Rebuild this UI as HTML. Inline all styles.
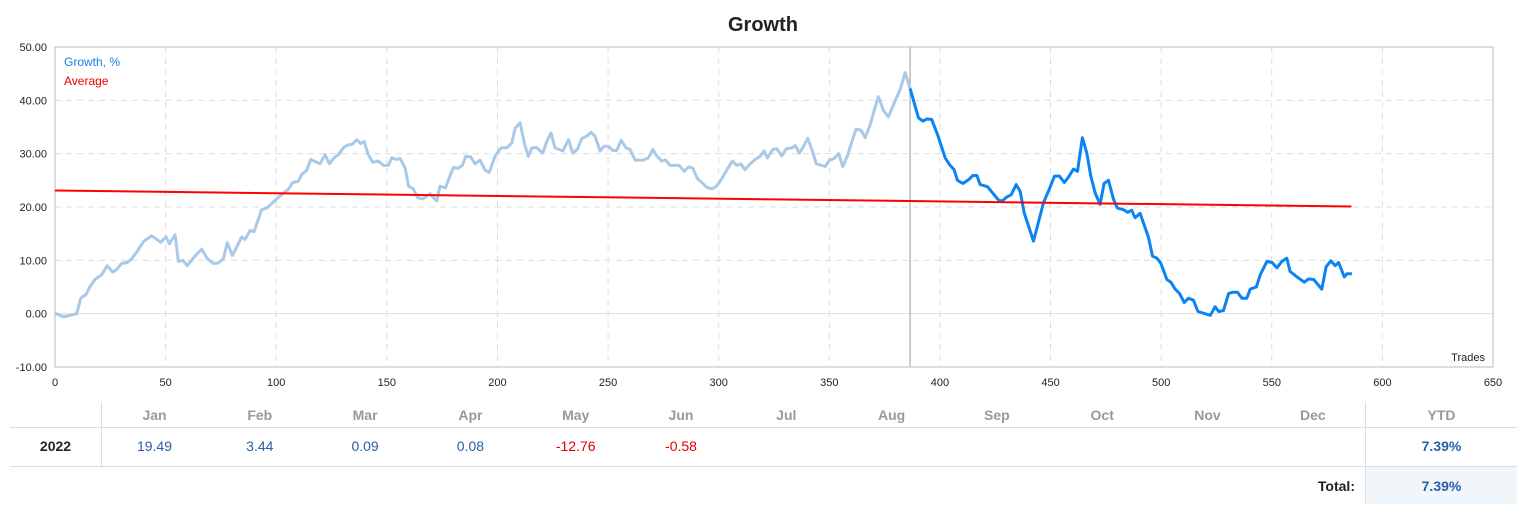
<!DOCTYPE html>
<html><head><meta charset="utf-8">
<style>
body{margin:0;width:1523px;height:518px;background:#fff;font-family:"Liberation Sans","DejaVu Sans",sans-serif;overflow:hidden;position:relative}
svg{position:absolute;left:0;top:0}
.tbl{position:absolute;left:10px;top:402px;width:1507px;height:102px}
.c{position:absolute;text-align:center;font-size:14px}
</style></head><body>
<svg id="chart" width="1523" height="400">
<text x="763" y="31" text-anchor="middle" font-size="20" font-weight="bold" fill="#222">Growth</text>
<g id="grid"></g>
<rect x="55" y="47" width="1438" height="320" fill="none" stroke="#bbb"/>
<g id="marks"></g>
<text x="64" y="66" font-size="12" fill="#1a7fe6">Growth, %</text>
<text x="64" y="85" font-size="12" fill="#e00">Average</text>
<text x="1485" y="361" font-size="11" fill="#222" text-anchor="end">Trades</text>
</svg>
<div class="tbl">
<div style="position:absolute;left:91px;top:0;width:1px;height:64px;background:#ddd"></div>
<div style="position:absolute;left:1355px;top:0;width:1px;height:102px;background:#ddd"></div>
<div style="position:absolute;left:0;top:25px;width:1507px;height:1px;background:#ddd"></div>
<div style="position:absolute;left:0;top:64px;width:1507px;height:1px;background:#ddd"></div>
<div style="position:absolute;left:1356px;top:65px;width:151px;height:37px;background:#f1f6fb"></div>
<div id="months"></div>
<div class="c" style="left:0;width:91px;top:36px;font-weight:bold;color:#222">2022</div>
<div class="c" style="left:1356px;width:151px;top:5px;color:#999;font-weight:bold">YTD</div>
<div class="c" style="left:1356px;width:151px;top:36px;color:#2a5ea8;font-weight:bold">7.39%</div>
<div class="c" style="left:1200px;width:145px;top:76px;text-align:right;color:#222;font-weight:bold">Total:</div>
<div class="c" style="left:1356px;width:151px;top:76px;color:#2a5ea8;font-weight:bold">7.39%</div>
</div>
<script>
const yTicks=[50,40,30,20,10,0,-10];
const xTicks=[0,50,100,150,200,250,300,350,400,450,500,550,600,650];
const histT=[0,3.8,9.8,11.6,14,15.8,18.1,21.1,23.6,26.1,27.9,30.1,32.7,34.7,37.2,40.2,43.7,47.8,50.2,51.7,54.3,55.8,57.7,59.8,63.3,66.3,68.9,71.6,73.8,76.1,77.9,80.2,84.4,85.9,88.2,90,93.4,95.7,100.2,103.2,105.5,107.4,109.9,111.5,113.8,115.6,119.8,122.1,124,126.1,128.1,130.3,132.6,134.1,136.4,138.2,139.7,141.6,143.6,146.2,148.4,150.7,152.2,154.5,156,158.3,159.8,162,163.8,166.1,169.5,172.6,174,176.5,178.6,180.1,182.4,184.1,185.7,187.9,189.9,192.1,194.4,196.3,198.9,201.1,201.9,204.2,206.5,208,210.2,212.5,214,215.5,217.8,220.5,222.3,224.2,226,229.5,232.1,234,236.1,238.1,240.4,242.3,244.1,246.4,248.2,250.1,252.1,253.9,255.9,258.1,259.9,262.2,266,268.2,270.2,272,274.3,276.1,278,282.1,284.4,286.3,288.3,290.4,292.4,294.6,296.9,299.1,301.4,303.9,306.2,308.2,310,311.9,314.2,316.5,318.7,320.5,322,324.5,326.3,328.5,330.5,333.1,334.6,336.5,338.3,340.3,342.1,344.1,345.9,348.1,350.1,352.2,354.2,356.1,358.2,360.2,362.1,364.4,366.2,368.4,370.2,372.2,374.5,376.7,379,382,384.3,386.5];
const histV=[0.1,-0.6,0,2.9,3.6,5.1,6.4,7.3,9,7.8,8.3,9.4,9.6,10.3,11.7,13.6,14.6,13.4,14.4,13.1,14.8,9.8,10,9,10.8,12.1,10.3,9.4,9.5,10.3,13.3,10.9,14.4,13.9,15.6,15.4,19.5,19.8,21.5,22.6,23.3,24.6,24.8,26.1,26.9,28.9,28.1,29.8,28.1,29.2,29.8,31.1,31.7,31.7,32.6,31.9,32.3,29.8,28.4,28.6,27.8,27.8,29.2,28.9,29.1,27.3,23.9,23.4,21.8,21.5,22.5,21.1,23.9,23.6,25.9,27.4,27.3,27.8,29.5,29.4,28.1,28.8,26.9,26.5,29.5,30.8,31.1,31.1,32,34.8,35.8,31.4,29.5,31.1,31.1,30.1,32.3,33.9,31.1,30.5,32.6,30.1,30.8,32.8,33.3,34,33.3,30.5,31.4,31.4,30.6,30.6,32.5,31.1,30.8,28.8,28.8,29.2,30.8,29.6,28.6,28.8,27.8,27.8,26.7,27.5,27.3,25.3,24.6,23.7,23.4,23.9,25.3,27.1,28.6,27.8,28.1,27,28.1,28.9,29.5,30.5,29.2,30.8,30.9,29.6,30.9,31.1,31.5,30.1,31.3,32.9,30.8,28.1,27.9,27.6,28.8,29.1,30,27.6,29.6,32.3,34.6,34.4,33,35.3,38,40.7,38.1,36.9,39.2,42,45.2,42.2];
const curT=[386.5,390.3,392.3,394.1,396.3,398.9,402.4,404.6,406.4,407.9,410.4,412.9,414.9,416.7,418.2,421.5,423.5,426.5,428,430.3,432.2,434.5,436.3,438.1,442.3,446.8,449.5,451.8,454,456.2,458.1,460.4,462.2,464.4,466.4,468.2,470.2,472.4,474.2,476.2,478.4,480.2,483,484.9,486.7,488.2,490.5,494.3,496.1,498.1,499.9,502.6,504.4,506.3,508.3,510.4,512.4,514.6,516.6,522.2,524.4,526,528.2,530.5,532.4,534.5,536.5,538.7,540.3,543,544.8,547.8,550.1,552.3,554.6,556.8,558.3,561.4,564.7,566.6,568.9,572.6,574.6,576.7,578.7,580.2,582.8,584,586.2];
const curV=[42.2,36.7,36.1,36.5,36.4,33.6,29.2,27.8,27,25,24.4,25.1,25.9,25.9,24.2,23.8,22.8,21.3,21.1,21.9,22.3,24.2,22.9,18.9,13.6,20.8,23.4,25.8,25.8,24.6,25.6,27.1,26.7,33,30.1,25.8,22.6,20.5,24.4,25,21.5,19.8,19.5,19,19.4,18,18.8,14.3,10.8,10.4,9.4,6.4,5.9,4.6,3.8,2.1,2.9,2.5,0.4,-0.3,1.3,0.4,0.6,3.8,4,4,2.9,2.9,4.6,5,7.3,9.8,9.6,8.6,9.8,10.4,7.9,6.9,5.9,6.5,6.4,4.6,8.8,9.9,9,9.6,6.9,7.5,7.5];
const avgT=[0,586];
const avgV=[23.1,20.1];
const splitTrade=386.5;
const months=["Jan","Feb","Mar","Apr","May","Jun","Jul","Aug","Sep","Oct","Nov","Dec"];
const monthVals=["19.49","3.44","0.09","0.08","-12.76","-0.58","","","","","",""];

const NS="http://www.w3.org/2000/svg";
const X0=55,X1=1493,Y0=47,Y1=367;
const xs=t=>X0+t*(X1-X0)/650;
const ys=v=>Y1-(v+10)*(Y1-Y0)/60;
const grid=document.getElementById('grid'),marks=document.getElementById('marks');
function mk(tag,attrs,parent){const e=document.createElementNS(NS,tag);for(const k in attrs)e.setAttribute(k,attrs[k]);parent.appendChild(e);return e;}
yTicks.forEach(v=>{
  const y=ys(v);
  if(v!==50&&v!==-10){const l=mk('line',{x1:X0,x2:X1,y1:y,y2:y,stroke:v===0?'#ddd':'#ddd','stroke-dasharray':v===0?'none':'6,5','stroke-width':1},grid);
  
  }
  const t=mk('text',{x:47,y:y+4,'text-anchor':'end','font-size':11,fill:'#222'},grid);t.textContent=v.toFixed(2);
  
  
});
xTicks.forEach(v=>{
  const x=xs(v);
  if(v>0&&v<650){const l=mk('line',{x1:x,x2:x,y1:Y0,y2:Y1,stroke:'#ddd','stroke-dasharray':'6,5'},grid);
  
  }
  const t=mk('text',{x:x,y:386,'text-anchor':'middle','font-size':11,fill:'#222'},grid);t.textContent=v;
  
  
});
const sl=mk('line',{x1:xs(splitTrade),x2:xs(splitTrade),y1:Y0,y2:Y1,stroke:'#999','stroke-width':1},grid);


const pts=(T,V)=>T.map((t,i)=>xs(t).toFixed(1)+','+ys(V[i]).toFixed(1)).join(' ');
const h=mk('polyline',{points:pts(histT,histV),fill:'none',stroke:'#a9c9e8','stroke-width':3,'stroke-linejoin':'round'},marks);


const c=mk('polyline',{points:pts(curT,curV),fill:'none',stroke:'#0a84f5','stroke-width':3,'stroke-linejoin':'round'},marks);


const a=mk('polyline',{points:pts(avgT,avgV),fill:'none',stroke:'#f00','stroke-width':2},marks);


const md=document.getElementById('months');
months.forEach((m,i)=>{
  const left=92+i*105.3;
  const hd=document.createElement('div');hd.className='c';hd.style.cssText=`left:${left}px;width:105px;top:5px;color:#999;font-weight:bold`;hd.textContent=m;
  
  
  md.appendChild(hd);
  const v=monthVals[i];
  if(v){const d=document.createElement('div');d.className='c';d.style.cssText=`left:${left}px;width:105px;top:36px;color:${v.startsWith('-')?'#d00':'#2a5ea8'}`;d.textContent=v;
  
  
  md.appendChild(d);}
});
</script>
</body></html>
